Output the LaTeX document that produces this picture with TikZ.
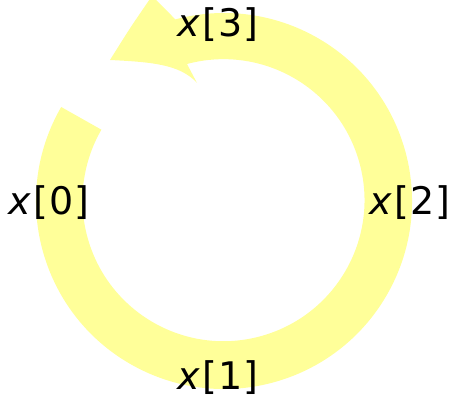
\documentclass[tikz,border=0pt]{standalone}
\usepackage{fontspec}
\setmainfont{DejaVu Sans}
\usetikzlibrary{positioning,calc}
\definecolor{bandyellow}{RGB}{255,255,153}
\tikzset{
  indexlabel/.style={font=\fontsize{38}{44}\selectfont,inner sep=0pt},
  bandfill/.style={fill=bandyellow,draw=none}
}
\newcommand{\xidx}[1]{\textit{x}\kern3pt[\kern1pt#1\kern1pt]}

\begin{document}
\begin{tikzpicture}[x=1pt,y=1pt]
  \useasboundingbox (0,0) rectangle (452,398);
  \coordinate (c) at (224,197);
  % thick circular arrow
  \fill[bandfill] ($(c)+(150:188)$) arc[start angle=150,end angle=465,radius=188]
    -- (171,383) -- (152,402) .. controls (130,370) .. (110,338)
    .. controls (150,336) and (180,334) .. (197,315)
    -- (187,334) arc[start angle=465,end angle=150,radius=141] -- cycle;
  \node[indexlabel] (x0) at (49,195) {\xidx{0}};
  \node[indexlabel] (x1) at (218,20) {\xidx{1}};
  \node[indexlabel] (x2) at (410,195) {\xidx{2}};
  \node[indexlabel] (x3) at (218,373) {\xidx{3}};
\end{tikzpicture}
\end{document}
